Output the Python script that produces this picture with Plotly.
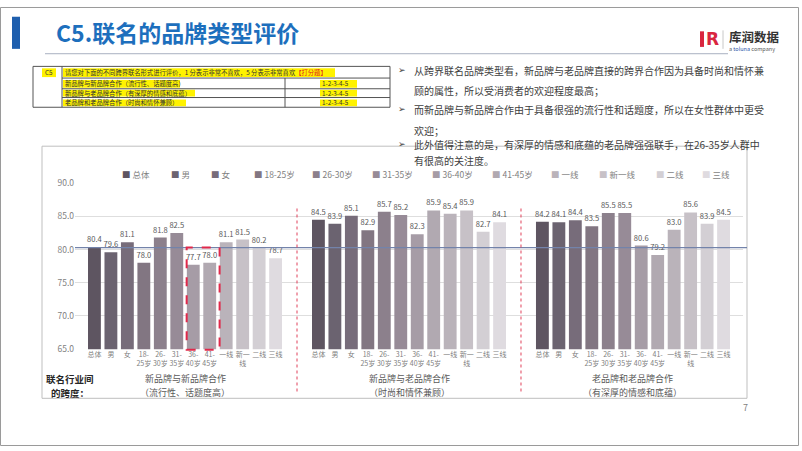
import plotly.graph_objects as go

# ---------------- data ----------------
series_names = ["总体", "男", "女", "18-25岁", "26-30岁", "31-35岁", "36-40岁", "41-45岁",
                "一线", "新一线", "二线", "三线"]
tick_labels = ["总体", "男", "女", "18-<br>25岁", "26-<br>30岁", "31-<br>35岁", "36-<br>40岁", "41-<br>45岁",
               "一线", "新一<br>线", "二线", "三线"]
group_titles = ["新品牌与新品牌合作", "新品牌与老品牌合作", "老品牌和老品牌合作"]
group_subtitles = ["（流行性、话题度高）", "（时尚和情怀兼顾）", "（有深厚的情感和底蕴）"]
new_new = [80.4, 79.6, 81.1, 78.0, 81.8, 82.5, 77.7, 78.0, 81.1, 81.5, 80.2, 78.7]
new_old = [84.5, 83.9, 85.1, 82.9, 85.7, 85.2, 82.3, 85.9, 85.4, 85.9, 82.7, 84.1]
old_old = [84.2, 84.1, 84.4, 83.5, 85.5, 85.5, 80.6, 79.2, 83.0, 85.6, 83.9, 84.5]
group_values = [new_new, new_old, old_old]
average_line = 80.3

colors = ["#5e5561", "#6b6370", "#776c7a", "#827682", "#8c808c", "#978b97",
          "#a69ca6", "#b1a9b1", "#bab3ba", "#c7c1c7", "#d3cfd4", "#dfdbe0"]

W, H = 802, 451
FONT = "Noto Sans CJK SC"
GOFF = 13.6  # spacing between groups (in bar units)


def px(x):
    return x / W


def py(y):
    return 1 - y / H


fig = go.Figure()
for i, name in enumerate(series_names):
    xs = [g * GOFF + i for g in range(3)]
    ys = [group_values[g][i] for g in range(3)]
    fig.add_trace(go.Bar(
        x=xs, y=ys, name=name, width=0.78,
        marker=dict(color=colors[i], line=dict(width=0)),
        text=[f"{v:.1f}" for v in ys], textposition="outside", constraintext="none",
        textfont=dict(size=7.6, color="#595959", family=FONT),
        cliponaxis=False, showlegend=False,
    ))

tickvals = [g * GOFF + i for g in range(3) for i in range(12)]
ticktext = tick_labels * 3

shapes = []
annotations = []


def note(text, x, y, size, color="#404040", xanchor="left", xref="paper", family=FONT):
    annotations.append(dict(text=text, x=x, y=py(y), xref=xref, yref="paper", xanchor=xanchor,
                            yanchor="middle", showarrow=False, font=dict(size=size, color=color, family=family)))


# slide border
shapes.append(dict(type="rect", xref="paper", yref="paper", x0=px(0.5), x1=px(798.5), y0=py(450.5), y1=py(0.5),
                   line=dict(color="#9a9a9a", width=1), layer="below"))
# title bar
shapes.append(dict(type="rect", xref="paper", yref="paper", x0=px(12), x1=px(20), y0=py(43), y1=py(10),
                   fillcolor="#1f5fae", line=dict(width=0)))
shapes.append(dict(type="line", xref="paper", yref="paper", x0=px(45), x1=px(728), y0=py(48), y1=py(48),
                   line=dict(color="#a8b0c0", width=1)))
note("<b>C5.联名的品牌类型评价</b>", px(54), 26, 23, "#1d6fbd")
# logo
shapes.append(dict(type="rect", xref="paper", yref="paper", x0=px(700), x1=px(704), y0=py(41), y1=py(25),
                   fillcolor="#d9263f", line=dict(width=0)))
note("<b>R</b>", px(704), 33, 17, "#d9263f", family="DejaVu Sans")
shapes.append(dict(type="line", xref="paper", yref="paper", x0=px(723), x1=px(723), y0=py(43), y1=py(24),
                   line=dict(color="#c8c8c8", width=1)))
note("<b>库润数据</b>", px(727), 30, 12.5, "#333333")
note("a <span style='color:#1f4fa8'>toluna</span> company", px(727), 43.5, 5.5, "#555555")

# question table
tx0, tx1, tc1, tc2 = 33, 390, 62, 285
ty = [61, 73, 84, 93, 103]
shapes.append(dict(type="rect", xref="paper", yref="paper", x0=px(tx0), x1=px(tx1), y0=py(ty[4]), y1=py(ty[0]),
                   line=dict(color="#555555", width=1)))
shapes.append(dict(type="line", xref="paper", yref="paper", x0=px(tc1), x1=px(tc1), y0=py(ty[4]), y1=py(ty[0]),
                   line=dict(color="#555555", width=1)))
shapes.append(dict(type="line", xref="paper", yref="paper", x0=px(tc2), x1=px(tc2), y0=py(ty[4]), y1=py(ty[1]),
                   line=dict(color="#555555", width=1)))
for yy in ty[1:4]:
    shapes.append(dict(type="line", xref="paper", yref="paper", x0=px(tc1), x1=px(tx1), y0=py(yy), y1=py(yy),
                       line=dict(color="#555555", width=1)))
hl = [(42, 56, 63, 72), (63, 335, 63, 72), (63, 180, 75, 83), (63, 195, 85, 92), (63, 186, 95, 102),
      (320, 357, 75, 83), (320, 357, 85, 92), (320, 357, 95, 102)]
for a, b, c, d in hl:
    shapes.append(dict(type="rect", xref="paper", yref="paper", x0=px(a), x1=px(b), y0=py(d), y1=py(c),
                       fillcolor="#fff200", line=dict(width=0), layer="below"))
table_texts = [
    ("C5", 43, 67.5),
    ("请您对下面的不同跨界联名形式进行评价，1 分表示非常不喜欢，5 分表示非常喜欢<span style='color:#e02020'>【打分题】</span>", 63, 67.5),
    ("新品牌与新品牌合作（流行性、话题度高）", 63, 79),
    ("新品牌与老品牌合作（有深厚的情感和底蕴）", 63, 88.5),
    ("老品牌和老品牌合作（时尚和情怀兼顾）", 63, 98),
    ("1-2-3-4-5", 320, 79), ("1-2-3-4-5", 320, 88.5), ("1-2-3-4-5", 320, 98),
]
for t, x, y in table_texts:
    note(t, px(x), y, 6.3, "#333333")

# right-hand commentary
bullet_lines = [
    ("➢", "从跨界联名品牌类型看，新品牌与老品牌直接的跨界合作因为具备时尚和情怀兼", 65),
    ("", "顾的属性，所以受消费者的欢迎程度最高；", 86),
    ("➢", "而新品牌与新品牌合作由于具备很强的流行性和话题度，所以在女性群体中更受", 105),
    ("", "欢迎；", 127),
    ("➢", "此外值得注意的是，有深厚的情感和底蕴的老品牌强强联手，在26-35岁人群中", 141),
    ("", "有很高的关注度。", 158),
]
for b, t, y in bullet_lines:
    if b:
        note(b, px(396), y, 9, "#404040", family="DejaVu Sans")
    note(t, px(412), y, 10, "#404040")

# chart box
shapes.append(dict(type="rect", xref="paper", yref="paper", x0=px(42), x1=px(747), y0=py(402), y1=py(143),
                   line=dict(color="#bfbfbf", width=1), layer="below"))

# legend (as annotations)
legend_x = [123, 172, 212, 255, 313, 373, 433, 493, 552, 600, 657, 703]
for i, name in enumerate(series_names):
    note(f"<span style='color:{colors[i]}'>■</span> {name}", px(legend_x[i] - 3), 172, 8.5, "#7f7f7f")

# average line
shapes.append(dict(type="line", xref="paper", yref="y", x0=px(75), x1=px(747), y0=average_line, y1=average_line,
                   line=dict(color="#7383aa", width=1.2)))
# group separators
for g in range(2):
    xm = (g * GOFF + 11 + (g + 1) * GOFF) / 2
    shapes.append(dict(type="line", xref="x", yref="paper", x0=xm, x1=xm, y0=py(395), y1=py(205),
                       line=dict(color="#e0405a", width=1, dash="dot")))
# highlight box around 36-45岁 in the first group
shapes.append(dict(type="rect", xref="x", yref="paper", x0=5.6, x1=7.6, y0=py(352), y1=py(247),
                   line=dict(color="#e0284a", width=2, dash="dash")))

# group labels
for g in range(3):
    note(group_titles[g], g * GOFF + 5.5, 382, 9, "#595959", xanchor="center", xref="x")
    note(group_subtitles[g], g * GOFF + 5.5, 396, 9, "#595959", xanchor="center", xref="x")
note("<b>联名行业间</b>", px(70), 382, 9.5, "#262626", xanchor="center")
note("<b>的跨度：</b>", px(70), 396.5, 9.5, "#262626", xanchor="center")
note("7", px(745), 411, 9, "#7f7f7f", xanchor="center")

fig.update_layout(
    width=W, height=H, margin=dict(l=0, r=0, t=0, b=0),
    paper_bgcolor="white", plot_bgcolor="white",
    barmode="overlay", showlegend=False,
    font=dict(family=FONT),
    xaxis=dict(domain=[px(75), px(743)], range=[-1.18, 2 * GOFF + 11 + 1.18], tickmode="array",
               tickvals=tickvals, ticktext=ticktext, showgrid=False, zeroline=False, showline=False,
               ticks="", tickangle=0, tickfont=dict(size=7, color="#7f7f7f", family=FONT)),
    yaxis=dict(domain=[py(351.5), py(181)], range=[65, 90], dtick=5, tickformat=".1f",
               showgrid=True, gridcolor="#dedede", zeroline=False, showline=False, ticks="",
               tickfont=dict(size=8.5, color="#7f7f7f", family=FONT)),
    shapes=shapes, annotations=annotations,
)

fig.write_html("out.html")
